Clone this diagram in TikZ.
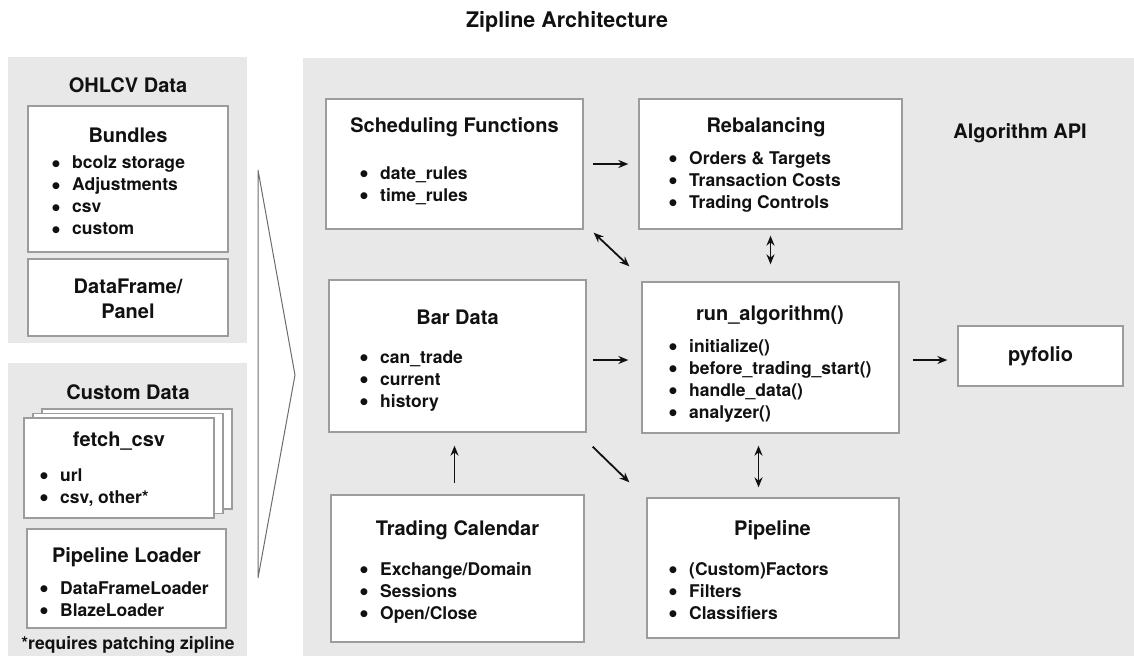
\documentclass[tikz,border=0pt]{standalone}
\usepackage{fontspec}
\setmainfont{TeX Gyre Heros}
\newfontfamily\dejavu{DejaVu Sans}
\usetikzlibrary{calc,arrows.meta}
\definecolor{panel}{HTML}{E8E8E8}
\definecolor{edge}{HTML}{9C9C9C}
\definecolor{ink}{HTML}{111111}
\newcommand{\bl}[1]{\makebox[20pt][l]{\raisebox{2.8pt}{\dejavu\fontsize{9}{9}\selectfont ●}}#1}
\begin{document}
\begin{tikzpicture}[x=1pt,y=-1pt,
  panelbox/.style={fill=panel, draw=none},
  box/.style={draw=edge, line width=1.3pt, fill=white, inner sep=0pt},
  ttl/.style={font=\bfseries\fontsize{20}{25}\selectfont, text=ink, inner sep=0pt, align=center},
  lst/.style={font=\bfseries\fontsize{17.5}{22}\selectfont, text=ink, align=left, anchor=north west, inner sep=0pt},
  arr/.style={-{Stealth[length=10pt,width=8pt]}, line width=1.8pt, draw=ink},
  darr/.style={{Stealth[length=10pt,width=8pt]}-{Stealth[length=10pt,width=8pt]}, line width=1.8pt, draw=ink},
  chev/.style={draw=gray!85!black, line width=1pt}
]
\useasboundingbox (0,0) rectangle (1134,656);
% panels
\fill[panelbox] (8,57) rectangle (247,343);
\fill[panelbox] (8,363) rectangle (247,656);
\fill[panelbox] (303,58) rectangle (1134,656);
% title
\node[ttl, font=\bfseries\fontsize{21.5}{25}\selectfont] (title) at (567,22) {Zipline Architecture};
% chevron
\draw[chev] (258,170) -- (295,375) -- (258,578) -- cycle;

% left top panel
\node[ttl] (ohlcv) at (128,85) {OHLCV Data};
\node[box, minimum width=200, minimum height=146] (bundles) at (128,179) {};
\node[ttl] (bundlesT) at (128,135) {Bundles};
\node[lst] (bundlesL) at (52,156) {\bl{bcolz storage}\\ \bl{Adjustments}\\ \bl{csv}\\ \bl{custom}};
\node[box, minimum width=200, minimum height=77] (dfpanel) at (128,297.5) {};
\node[ttl] (dfpanelT) at (128,299) {DataFrame/\\Panel};

% left bottom panel
\node[ttl] (custom) at (128,392) {Custom Data};
\node[box, minimum width=190, minimum height=100] (fetchb2) at (137,459) {};
\node[box, minimum width=190, minimum height=100] (fetchb1) at (128,463.5) {};
\node[box, minimum width=190, minimum height=100] (fetch) at (119,468) {};
\node[ttl] (fetchT) at (119,441) {fetch\_csv};
\node[lst] (fetchL) at (40,468.5) {\bl{url}\\ \bl{csv, other*}};
\node[box, minimum width=199, minimum height=99] (loader) at (126.5,578.5) {};
\node[ttl] (loaderT) at (126.5,557) {Pipeline Loader};
\node[lst] (loaderL) at (40,581.5) {\bl{DataFrameLoader}\\ \bl{BlazeLoader}};
\node[lst, anchor=center] (note) at (128,645) {*requires patching zipline};

% main panel
\node[ttl] (api) at (1020,133) {Algorithm API};
\node[box, minimum width=257, minimum height=130] (sched) at (454.5,164) {};
\node[ttl] (schedT) at (454.5,127) {Scheduling Functions};
\node[lst] (schedL) at (360,166.5) {\bl{date\_rules}\\ \bl{time\_rules}};

\node[box, minimum width=263, minimum height=130] (rebal) at (770.5,164) {};
\node[ttl] (rebalT) at (766,127) {Rebalancing};
\node[lst] (rebalL) at (669,151.5) {\bl{Orders \& Targets}\\ \bl{Transaction Costs}\\ \bl{Trading Controls}};

\node[box, minimum width=257, minimum height=152] (bar) at (457.5,356) {};
\node[ttl] (barT) at (457.5,317) {Bar Data};
\node[lst] (barL) at (360,350.5) {\bl{can\_trade}\\ \bl{current}\\ \bl{history}};

\node[box, minimum width=257, minimum height=151] (run) at (770.5,357.5) {};
\node[ttl] (runT) at (770,315) {run\_algorithm()};
\node[lst] (runL) at (669,339.5) {\bl{initialize()}\\ \bl{before\_trading\_start()}\\ \bl{handle\_data()}\\ \bl{analyzer()}};

\node[box, minimum width=253, minimum height=147] (cal) at (457.5,568.5) {};
\node[ttl] (calT) at (457.5,530) {Trading Calendar};
\node[lst] (calL) at (360,562.5) {\bl{Exchange/Domain}\\ \bl{Sessions}\\ \bl{Open/Close}};

\node[box, minimum width=252, minimum height=140] (pipe) at (773,568) {};
\node[ttl] (pipeT) at (772.5,530) {Pipeline};
\node[lst] (pipeL) at (669,562.5) {\bl{(Custom)Factors}\\ \bl{Filters}\\ \bl{Classifiers}};

\node[box, minimum width=165, minimum height=60] (pyfolio) at (1040.5,356) {};
\node[ttl] (pyfolioT) at (1040.5,356) {pyfolio};

% connectors
\draw[arr] ($(sched.east)+(9,0)$) -- ($(rebal.west)+(-10,0)$);
\draw[darr] ($(sched.south east)+(10,3)$) -- ($(run.north west)+(-12,-15)$);
\draw[darr] ($(rebal.south)+(0,6)$) -- ($(run.north)+(0,-17)$);
\draw[arr] ($(bar.east)+(6,4)$) -- ($(bar.east -| run.west)+(-13,4)$);
\draw[arr] ($(bar.south east)+(6,14)$) -- ($(pipe.north west)+(-17,-15)$);
\draw[arr] ($(cal.north)+(-3,-11)$) -- ($(cal.north |- bar.south)+(-3,13)$);
\draw[darr] ($(run.south)+(-12,12)$) -- ($(run.south |- pipe.north)+(-12,-10)$);
\draw[arr] ($(run.east)+(13,2.5)$) -- ($(run.east -| pyfolio.west)+(-10,2.5)$);
\end{tikzpicture}
\end{document}
